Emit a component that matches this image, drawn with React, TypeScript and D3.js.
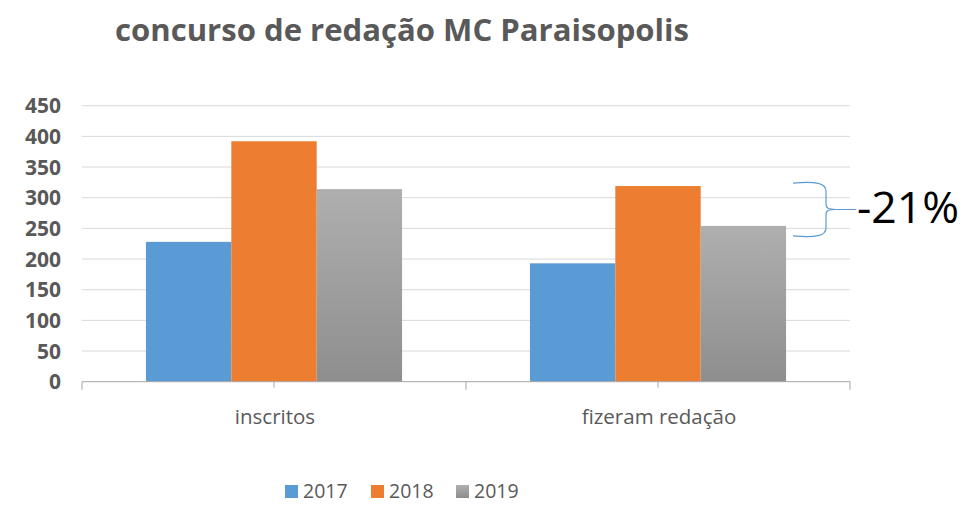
import React from "react";
import * as d3 from "d3";

const categories = ["inscritos", "fizeram redação"];
const seriesNames = ["2017", "2018", "2019"];
const values2017 = [228, 193];
const values2018 = [392, 319];
const values2019 = [314, 254];
const yTicks = [0, 50, 100, 150, 200, 250, 300, 350, 400, 450];
const colors = ["#5B9BD5", "#ED7D31", "#A5A5A5"];
const title = "concurso de redação MC Paraisopolis";
const annotation = "-21%";

const W = 964, H = 505;
const M = { left: 82, right: 850, top: 105.7, bottom: 381.7 };
const FONT = "'Open Sans', 'Noto Sans', sans-serif";

export default function App() {
  const series = [values2017, values2018, values2019];
  const x0 = d3.scaleBand().domain(categories).range([M.left, M.right]).paddingInner(0).paddingOuter(0);
  const groupW = x0.bandwidth() * 0.667;
  const x1 = d3.scaleBand().domain(seriesNames).range([0, groupW]).padding(0);
  const y = d3.scaleLinear().domain([0, 450]).range([M.bottom, M.top]);

  // brace between 2018 and 2019 of second category
  const yTop = y(values2018[1]) - 3;
  const yBot = y(values2019[1]) + 10;
  const yMid = (yTop + yBot) / 2;
  const bx0 = 793, bx1 = 826, tipX = 856;
  const bracePath = `M${bx0},${yTop} C${bx1 - 10},${yTop - 2} ${bx1},${yTop} ${bx1},${yTop + 8} L${bx1},${yMid - 6} C${bx1},${yMid - 1} ${bx1 + 2},${yMid} ${bx1 + 10},${yMid} L${tipX},${yMid} M${bx1 + 10},${yMid} C${bx1 + 2},${yMid} ${bx1},${yMid + 1} ${bx1},${yMid + 6} L${bx1},${yBot - 8} C${bx1},${yBot} ${bx1 - 10},${yBot + 2} ${bx0},${yBot}`;

  const legendX = [285, 371, 456];

  return (
    <svg width={W} height={H} style={{ display: "block", position: "absolute", left: 0, top: 0 }}>
      <defs>
        <linearGradient id="grayGrad" x1="0" y1="0" x2="0" y2="1">
          <stop offset="0%" stopColor="#AFAFAF" />
          <stop offset="100%" stopColor="#8E8E8E" />
        </linearGradient>
      </defs>
      <rect width={W} height={H} fill="#fff" />
      <text x={115} y={41} textLength={574} lengthAdjust="spacingAndGlyphs" fontFamily={FONT} fontWeight="bold" fontSize={30} fill="#595959">
        {title}
      </text>
      {yTicks.map((t) => (
        <g key={t}>
          {t > 0 && <line x1={M.left} x2={M.right} y1={y(t)} y2={y(t)} stroke="#D9D9D9" strokeWidth={1} />}
          <text x={61} y={y(t) + 7.5} textAnchor="end" fontFamily={FONT} fontWeight="bold" fontSize={21} fill="#595959">
            {t}
          </text>
        </g>
      ))}
      {categories.map((c, ci) => {
        const gx = (x0(c) as number) + (x0.bandwidth() - groupW) / 2;
        return (
          <g key={c}>
            {seriesNames.map((s, si) => {
              const v = series[si][ci];
              return (
                <rect
                  key={s}
                  x={gx + (x1(s) as number)}
                  y={y(v)}
                  width={x1.bandwidth()}
                  height={y(0) - y(v)}
                  fill={si === 2 ? "url(#grayGrad)" : colors[si]}
                />
              );
            })}
            <text x={(x0(c) as number) + x0.bandwidth() / 2 + 1} y={424} textAnchor="middle" fontFamily={FONT} fontSize={20.5} fill="#595959">
              {c}
            </text>
          </g>
        );
      })}
      <line x1={M.left} x2={M.right} y1={y(0)} y2={y(0)} stroke="#A6A6A6" strokeWidth={1} />
      {[...categories.map((c) => x0(c) as number), M.right].map((tx, i) => (
        <line key={"t" + i} x1={tx} x2={tx} y1={y(0)} y2={y(0) + 8} stroke="#A6A6A6" strokeWidth={1} />
      ))}
      {categories.map((c) => {
        const cx = (x0(c) as number) + x0.bandwidth() / 2;
        return <line key={"m" + c} x1={cx} x2={cx} y1={y(0)} y2={y(0) + 6} stroke="#A6A6A6" strokeWidth={1} />;
      })}
      <path d={bracePath} fill="none" stroke="#5B9BD5" strokeWidth={1.2} />
      <text x={857} y={223} textLength={102} lengthAdjust="spacingAndGlyphs" fontFamily={FONT} fontSize={44} fill="#000">
        {annotation}
      </text>
      {seriesNames.map((s, i) => (
        <g key={"l" + s}>
          <rect x={legendX[i]} y={485} width={13} height={13} fill={i === 2 ? "url(#grayGrad)" : colors[i]} />
          <text x={legendX[i] + 18} y={498} fontFamily={FONT} fontSize={19.5} fill="#595959">
            {s}
          </text>
        </g>
      ))}
    </svg>
  );
}
